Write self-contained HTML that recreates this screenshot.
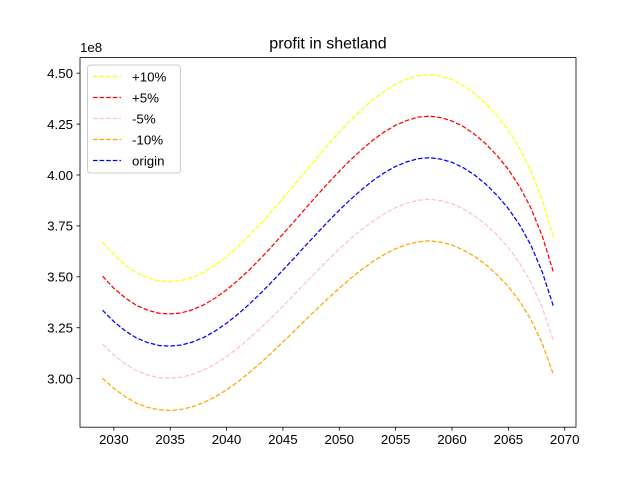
<!DOCTYPE html>
<html><head><meta charset="utf-8"><style>
body{margin:0;background:#fff;}
svg{display:block;font-family:"Liberation Sans","DejaVu Sans",sans-serif;}
</style></head><body>
<svg id="chart" width="640" height="480"></svg>
<script>
const years = [];
for (let y = 2029; y <= 2069; y++) years.push(y);
const origin = [3.336,3.28,3.235,3.20,3.177,3.163,3.16,3.165,3.18,3.203,3.234,3.272,3.316,3.365,3.418,3.474,3.533,3.592,3.653,3.712,3.771,3.827,3.88,3.929,3.973,4.011,4.042,4.065,4.08,4.085,4.078,4.062,4.036,4.0,3.955,3.90,3.835,3.755,3.655,3.525,3.355];
const plus10 = [3.670,3.608,3.559,3.520,3.495,3.479,3.476,3.482,3.498,3.523,3.557,3.599,3.648,3.702,3.760,3.821,3.886,3.951,4.018,4.083,4.148,4.210,4.268,4.322,4.370,4.412,4.446,4.472,4.488,4.494,4.486,4.468,4.440,4.400,4.351,4.290,4.219,4.131,4.021,3.878,3.691];
const plus5 = [3.503,3.444,3.397,3.360,3.336,3.321,3.318,3.323,3.339,3.363,3.396,3.436,3.482,3.533,3.589,3.648,3.710,3.772,3.836,3.898,3.960,4.018,4.074,4.125,4.172,4.212,4.244,4.268,4.284,4.289,4.282,4.265,4.238,4.200,4.153,4.095,4.027,3.943,3.838,3.701,3.523];
const minus5 = [3.169,3.116,3.073,3.040,3.018,3.005,3.002,3.007,3.021,3.043,3.072,3.108,3.150,3.197,3.247,3.300,3.356,3.412,3.470,3.526,3.582,3.636,3.686,3.733,3.774,3.810,3.840,3.862,3.876,3.881,3.874,3.859,3.834,3.800,3.757,3.705,3.643,3.567,3.472,3.349,3.187];
const minus10 = [3.002,2.952,2.912,2.880,2.859,2.847,2.844,2.849,2.862,2.883,2.911,2.945,2.984,3.029,3.076,3.127,3.180,3.233,3.288,3.341,3.394,3.444,3.492,3.536,3.576,3.610,3.638,3.659,3.672,3.677,3.670,3.656,3.632,3.600,3.560,3.510,3.452,3.380,3.290,3.173,3.020];
const xTicks = [2030,2035,2040,2045,2050,2055,2060,2065,2070];
const yTicks = [3.00,3.25,3.50,3.75,4.00,4.25,4.50];
const seriesLabels = ["+10%","+5%","-5%","-10%","origin"];
const seriesColors = ["yellow","red","pink","orange","blue"];

const NS = "http://www.w3.org/2000/svg";
const svg = document.getElementById("chart");
const L = 80, R = 576, T = 57.6, B = 427.2;
const allSeries = [plus10, plus5, minus5, minus10, origin];
const xmin0 = Math.min(...years), xmax0 = Math.max(...years);
const xm = (xmax0 - xmin0) * 0.05;
const xmin = xmin0 - xm, xmax = xmax0 + xm;
let ymin0 = Infinity, ymax0 = -Infinity;
allSeries.forEach(s => s.forEach(v => { ymin0 = Math.min(ymin0, v); ymax0 = Math.max(ymax0, v); }));
const ym = (ymax0 - ymin0) * 0.05;
const ymin = ymin0 - ym, ymax = ymax0 + ym;
function xs(v){ return L + (v - xmin) / (xmax - xmin) * (R - L); }
function ys(v){ return B - (v - ymin) / (ymax - ymin) * (B - T); }
function mk(tag, attrs, parent){
  const e = document.createElementNS(NS, tag);
  for (const k in attrs) e.setAttribute(k, attrs[k]);
  (parent || svg).appendChild(e);
  return e;
}
const DASH = "4.6,2";
const LW = 1.25;

allSeries.forEach((s, i) => {
  const d = s.map((v, j) => (j ? "L" : "M") + xs(years[j]).toFixed(2) + "," + ys(v).toFixed(2)).join(" ");
  const p = mk("path", {d: d, fill: "none", stroke: seriesColors[i], "stroke-width": LW, "stroke-dasharray": DASH, "stroke-linejoin": "round"});
  
  
});

const fr = mk("rect", {x: L, y: T, width: R - L, height: B - T, fill: "none", stroke: "#000", "stroke-width": 0.8});



xTicks.forEach(t => {
  const x = xs(t);
  const tk = mk("line", {x1: x, x2: x, y1: B, y2: B + 3.5, stroke: "#000", "stroke-width": 0.8});
  
  
  const tx = mk("text", {x: x, y: B + 17, "text-anchor": "middle", "font-size": "13.3px", fill: "#000"});
  tx.textContent = t;
  
  
});
yTicks.forEach(t => {
  const y = ys(t);
  const tk = mk("line", {x1: L - 3.5, x2: L, y1: y, y2: y, stroke: "#000", "stroke-width": 0.8});
  
  
  const tx = mk("text", {x: L - 7, y: y + 4.8, "text-anchor": "end", "font-size": "13.3px", fill: "#000"});
  tx.textContent = t.toFixed(2);
  
  
});
const off = mk("text", {x: L, y: 52, "font-size": "13.3px", fill: "#000"});
off.textContent = "1e8";


const title = mk("text", {x: (L + R) / 2, y: 48.5, "text-anchor": "middle", "font-size": "16px", fill: "#000"});
title.textContent = "profit in shetland";



const lg = mk("g", {});


const lb = mk("rect", {x: 87.5, y: 65, width: 93, height: 108, rx: 3, fill: "#fff", "fill-opacity": 0.8, stroke: "#ccc", "stroke-width": 1}, lg);


seriesLabels.forEach((lab, i) => {
  const y = 76.5 + i * 21;
  const g = mk("g", {}, lg);
  
  
  mk("line", {x1: 93, x2: 121, y1: y, y2: y, stroke: seriesColors[i], "stroke-width": LW, "stroke-dasharray": DASH}, g);
  const tx = mk("text", {x: 132, y: y + 4.8, "font-size": "13.3px", fill: "#000"}, g);
  tx.textContent = lab;
});
</script>
</body></html>
